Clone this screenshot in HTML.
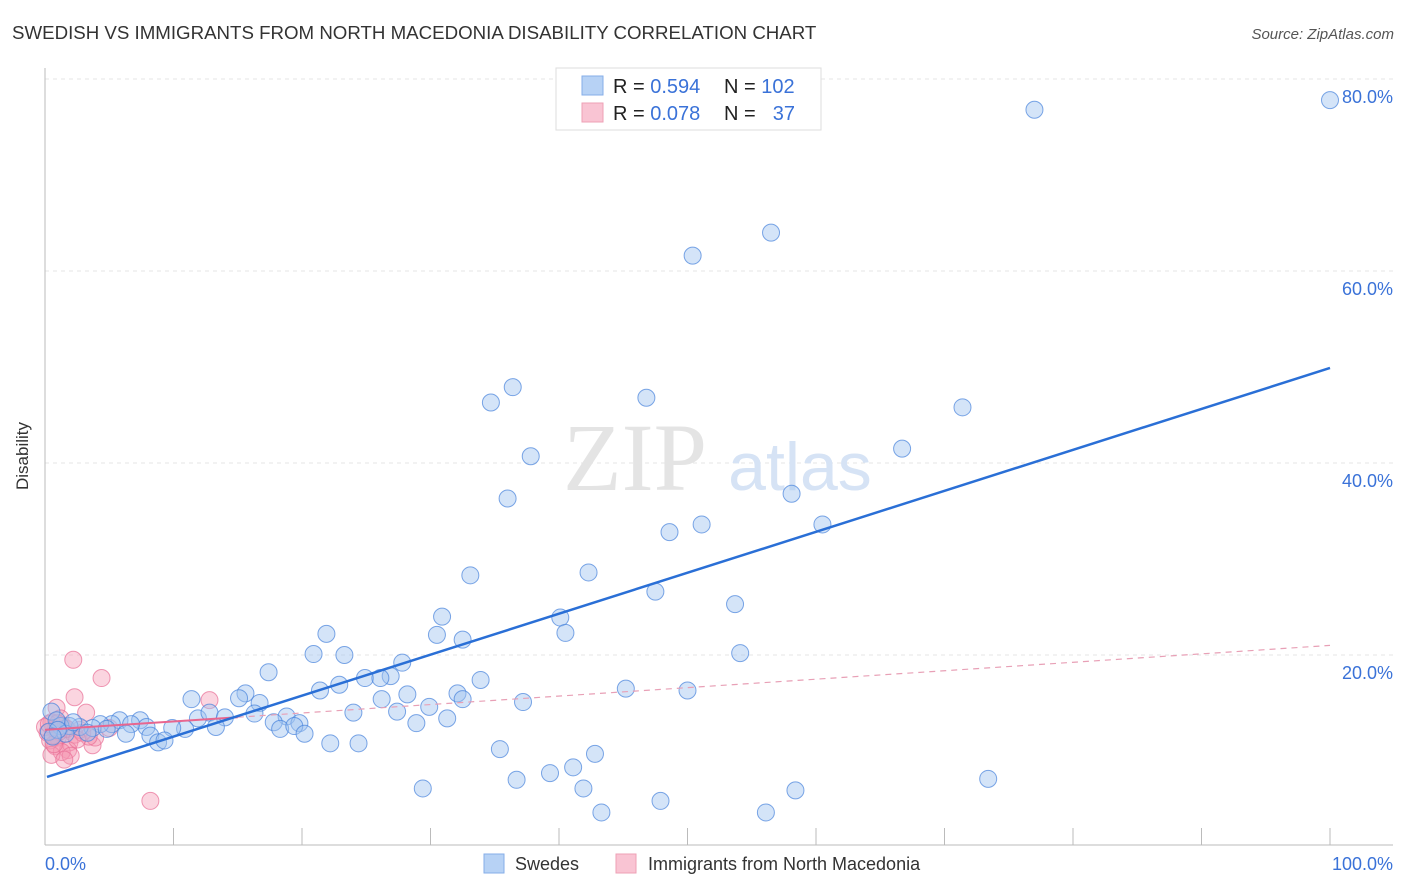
<!DOCTYPE html>
<html><head><meta charset="utf-8"><style>
body{margin:0;background:#fff;font-family:"Liberation Sans",sans-serif}
svg{display:block}
</style></head><body>
<svg id="c" width="1406" height="892">
<text x="12" y="39" font-size="18.7" fill="#333">SWEDISH VS IMMIGRANTS FROM NORTH MACEDONIA DISABILITY CORRELATION CHART</text>
<text x="1394" y="39" font-size="15" fill="#555" font-style="italic" text-anchor="end">Source: ZipAtlas.com</text>
<text x="28" y="456" font-size="17" fill="#333" transform="rotate(-90 28 456)" text-anchor="middle">Disability</text>
<g id="grid"></g>
<text x="635" y="490" font-size="96" fill="#e4e4e4" font-family="Liberation Serif" text-anchor="middle">ZIP</text>
<text x="800" y="490" font-size="68" fill="#d6e3f5" text-anchor="middle">atlas</text>
<g id="pts"></g>
<g id="lines"></g>
<g>
<rect x="556" y="68" width="265" height="62" fill="#fff" stroke="#ddd"/>
<rect x="582" y="76" width="21" height="19" fill="#b7d2f5" stroke="#86aee8"/>
<rect x="582" y="103" width="21" height="19" fill="#f9c4d3" stroke="#eea0b6"/>
<text x="613" y="93" font-size="20" fill="#222">R = <tspan fill="#3a72d8">0.594</tspan></text>
<text x="724" y="93" font-size="20" fill="#222">N = <tspan fill="#3a72d8">102</tspan></text>
<text x="613" y="120" font-size="20" fill="#222">R = <tspan fill="#3a72d8">0.078</tspan></text>
<text x="724" y="120" font-size="20" fill="#222">N = </text>
<text x="795" y="120" font-size="20" fill="#3a72d8" text-anchor="end">37</text>
</g>
<text x="45" y="870" font-size="18" fill="#3a72d8">0.0%</text>
<text x="1393" y="870" font-size="18" fill="#3a72d8" text-anchor="end">100.0%</text>
<g>
<rect x="484" y="854" width="20" height="19" fill="#b7d2f5" stroke="#86aee8"/>
<text x="515" y="870" font-size="18" fill="#333">Swedes</text>
<rect x="616" y="854" width="20" height="19" fill="#f9c4d3" stroke="#eea0b6"/>
<text x="648" y="870" font-size="18" fill="#333">Immigrants from North Macedonia</text>
</g>
</svg>
<script>
const yTicks=[20,40,60,80];
const xTicks=[0,10,20,30,40,50,60,70,80,90,100];
const swedesX=[100,77.0,56.5,50.4,36.4,34.7,46.8,71.4,66.7,37.8,36.0,58.1,51.1,60.5,48.6,42.3,33.1,47.5,53.7,30.9,40.1,30.5,32.5,40.5,21.9,54.1,20.9,23.3,27.8,17.4,33.9,24.9,26.9,26.1,22.9,21.4,45.2,50.0,28.2,32.1,32.5,26.2,37.2,15.6,15.1,11.4,16.7,29.9,24.0,27.4,16.3,18.8,31.3,11.9,12.8,14.0,28.9,19.8,17.8,13.3,18.3,19.4,20.2,10.9,9.9,7.4,7.9,5.8,5.2,6.7,6.3,8.2,8.8,9.3,4.3,3.7,2.7,1.9,1.2,0.5,22.2,24.4,35.4,42.8,39.3,41.1,36.7,73.4,29.4,41.9,58.4,47.9,43.3,56.1,3.3,0.9,1.6,0.3,2.2,1.0,4.8,0.6];
const swedesY=[77.8,76.8,64.0,61.6,47.9,46.3,46.8,45.8,41.5,40.7,36.3,36.8,33.6,33.6,32.8,28.6,28.3,26.6,25.3,24.0,23.9,22.1,21.6,22.3,22.2,20.2,20.1,20.0,19.2,18.2,17.4,17.6,17.8,17.6,16.9,16.3,16.5,16.3,15.9,16.0,15.4,15.4,15.1,16.0,15.5,15.4,15.0,14.6,14.0,14.1,13.9,13.6,13.4,13.4,14.0,13.5,12.9,12.9,13.0,12.5,12.3,12.6,11.8,12.3,12.4,13.2,12.5,13.2,12.8,12.8,11.8,11.6,10.9,11.1,12.8,12.4,12.5,12.6,12.6,14.1,10.8,10.8,10.2,9.7,7.7,8.3,7.0,7.1,6.1,6.1,5.9,4.8,3.6,3.6,11.9,13.2,11.8,12.0,13.0,12.2,12.3,11.5];
const macX=[2.2,4.4,2.3,12.8,0.9,3.2,1.2,0.5,1.6,0.8,0.2,1.0,0.4,1.9,3.7,0.8,1.8,1.3,0.5,2.0,1.5,8.2,2.7,3.9,5.0,1.3,2.3,0,1.1,0.6,2.9,1.7,0.3,3.4,1.0,2.5,0.7];
const macY=[19.5,17.6,15.6,15.3,14.5,14.0,13.4,13.0,12.4,12.2,11.9,11.4,11.1,10.9,10.6,10.5,10.1,9.9,9.6,9.5,9.1,4.8,12.2,11.4,12.4,12.7,11.7,12.5,12.0,11.6,11.9,12.3,12.8,11.5,12.9,11.2,10.7];
const trendSw=[7.3,49.9];
const trendMac=[12.2,21.0];
const ns='http://www.w3.org/2000/svg';
const X=v=>45+v*12.85, Y=v=>847-v*9.6;
function mk(tag,attrs,parent){const e=document.createElementNS(ns,tag);for(const k in attrs)e.setAttribute(k,attrs[k]);document.getElementById(parent).appendChild(e);return e;}
yTicks.forEach(t=>{
 const g=mk('line',{x1:45,x2:1393,y1:Y(t),y2:Y(t),stroke:'#e6e6e6','stroke-dasharray':'4,4'},'grid');
 
 
 const l=mk('text',{x:1393,y:Y(t)+24,'font-size':18,fill:'#3a72d8','text-anchor':'end'},'grid');
 l.textContent=t.toFixed(1)+'%';
 
 
});
const ax=mk('line',{x1:45,x2:45,y1:68,y2:845,stroke:'#bbb'},'grid');


const bx=mk('line',{x1:45,x2:1393,y1:845,y2:845,stroke:'#bbb'},'grid');


xTicks.slice(1).forEach(t=>{
 const k=mk('line',{x1:X(t),x2:X(t),y1:828,y2:845,stroke:'#bbb'},'grid');
 
 
});
macX.forEach((v,i)=>{
 const c=mk('circle',{cx:X(v),cy:Y(macY[i]),r:8.5,fill:'rgba(244,150,178,0.4)',stroke:'rgba(232,110,150,0.7)','stroke-width':1},'pts');
 
 
});
swedesX.forEach((v,i)=>{
 const c=mk('circle',{cx:X(v),cy:Y(swedesY[i]),r:8.5,fill:'rgba(160,195,240,0.45)',stroke:'rgba(70,130,220,0.7)','stroke-width':1},'pts');
 
 
});
const ly=v=>trendMac[0]+(trendMac[1]-trendMac[0])*v/100;
const m1=mk('line',{x1:X(0),y1:Y(ly(0)),x2:X(15),y2:Y(ly(15)),stroke:'#e8668f','stroke-width':2},'lines');


const m2=mk('line',{x1:X(15),y1:Y(ly(15)),x2:X(100),y2:Y(ly(100)),stroke:'#e8a0b6','stroke-width':1.2,'stroke-dasharray':'6,5'},'lines');


const s=mk('line',{x1:X(0)+2,y1:Y(trendSw[0]),x2:X(100),y2:Y(trendSw[1]),stroke:'#2a6fd6','stroke-width':2.5},'lines');


</script>
</body></html>
